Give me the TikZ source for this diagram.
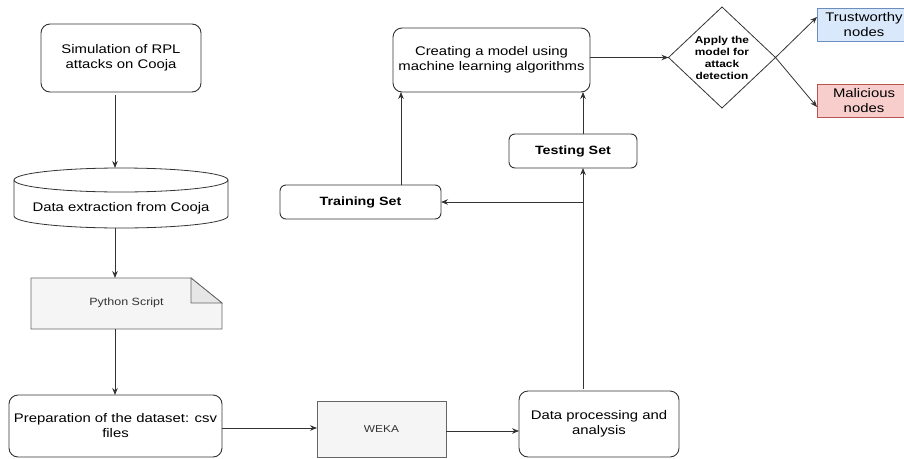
\documentclass[tikz,border=0pt]{standalone}
\usepackage{fontspec}
\setmainfont{Liberation Sans}[FakeStretch=1.19]
\usetikzlibrary{arrows.meta,shapes.geometric}
\definecolor{edge}{HTML}{333333}
\definecolor{grayfill}{HTML}{F5F5F5}
\definecolor{foldfill}{HTML}{E6E6E6}
\definecolor{grayline}{HTML}{666666}
\definecolor{bluefill}{HTML}{DAE8FC}
\definecolor{blueline}{HTML}{6C8EBF}
\definecolor{redfill}{HTML}{F8CECC}
\definecolor{redline}{HTML}{B85450}
\begin{document}
\begin{tikzpicture}[x=1pt,y=-1pt,
  every node/.style={inner sep=0pt,outer sep=0pt,align=center},
  txt/.style={font=\fontsize{12.5}{15}\selectfont},
  roundbox/.style={draw=edge,line width=0.9pt,rounded corners=9pt,fill=white,txt},
  setbox/.style={draw=edge,line width=0.9pt,rounded corners=6pt,fill=white,font=\fontsize{12}{14}\selectfont\bfseries},
  toolbox/.style={draw=grayline,line width=0.8pt,fill=grayfill,font=\fontsize{10}{12}\selectfont,text=edge},
  arr/.style={draw=edge,line width=0.8pt,-{Stealth[length=7pt,width=5.5pt]}},
  ln/.style={draw=edge,line width=0.8pt}]
\useasboundingbox (0,0) rectangle (904,458);
\clip (0,0) rectangle (904,458);

% left column
\node[roundbox,minimum width=160pt,minimum height=68pt] (sim) at (121,58)
  {Simulation of RPL\\attacks on Cooja};
\node[minimum width=214pt,minimum height=60pt] (extract) at (121,198) {};
% database cylinder (y grows downwards here)
\draw[edge,line width=0.8pt,fill=white]
  (14,180) -- (14,216) arc[start angle=180,end angle=0,x radius=107,y radius=12]
  -- (228,180) arc[start angle=0,end angle=-180,x radius=107,y radius=12] -- cycle;
\draw[edge,line width=0.8pt] (14,180) arc[start angle=180,end angle=0,x radius=107,y radius=12];
\node[txt] at (121,208) {Data extraction from Cooja};

% document with folded corner
\node[minimum width=191pt,minimum height=51pt] (py) at (126.5,303.5) {};
\draw[grayline,line width=0.8pt,fill=grayfill]
  (31,278) -- (191,278) -- (222,303) -- (222,329) -- (31,329) -- cycle;
\draw[grayline,line width=0.8pt,fill=foldfill]
  (191,278) -- (191,303) -- (222,303) -- cycle;
\node[font=\fontsize{10.5}{12}\selectfont,text=edge] at (126.5,303) {Python Script};

\node[roundbox,minimum width=213pt,minimum height=62pt] (prep) at (115.5,426)
  {Preparation of the dataset: csv\\files};

% bottom row
\node[toolbox,minimum width=129pt,minimum height=56pt] (weka) at (381.5,429) {WEKA};
\node[roundbox,minimum width=160pt,minimum height=66pt] (proc) at (599,424)
  {Data processing and\\analysis};

% training / testing
\node[setbox,minimum width=128pt,minimum height=34pt] (test) at (573,151) {Testing Set};
\node[setbox,minimum width=161pt,minimum height=34pt] (train) at (360.5,202) {Training Set};
\node[roundbox,minimum width=197pt,minimum height=64pt] (model) at (491.5,60)
  {Creating a model using\\machine learning algorithms};

% detection
\node[diamond,draw=edge,line width=0.8pt,fill=white,minimum width=107pt,minimum height=101pt,
  font=\fontsize{10}{12}\selectfont\bfseries] (apply) at (722,57.5)
  {Apply the\\model for\\attack\\detection};
\node[draw=blueline,line width=0.8pt,fill=bluefill,txt,minimum width=94pt,minimum height=33pt]
  (trust) at (864,24.5) {Trustworthy\\nodes};
\node[draw=redline,line width=0.8pt,fill=redfill,txt,minimum width=94pt,minimum height=33pt]
  (mal) at (864,100.5) {Malicious\\nodes};

% connectors
\coordinate (colx) at (115,0);
\draw[arr] (colx |- 0,95) -- (colx |- extract.north);
\draw[ln] (colx |- extract.south) -- (colx |- 0,240);
\draw[arr] (colx |- 0,240) -- (colx |- py.north);
\draw[arr] (colx |- py.south) -- (colx |- prep.north);
\draw[arr] (prep.east |- 0,428) -- (weka.west |- 0,428);
\draw[arr] (weka.east |- 0,431) -- (proc.west |- 0,431);
\coordinate (up) at (583,389);
\coordinate (split) at (583,202);
\draw[ln] (up) -- (split);
\draw[arr] (split) -- (up |- test.south);
\draw[arr] (split) -- (train.east);
\draw[arr] (train.north -| 401,0) -- (401,0 |- model.south);
\draw[arr] (test.north -| up) -- (up |- model.south);
\draw[arr] (model.east |- apply) -- (apply.west);
\draw[arr] (apply.east) -- (trust.west |- 0,17);
\draw[arr] (apply.east) -- (mal.west |- 0,107);
\end{tikzpicture}
\end{document}
